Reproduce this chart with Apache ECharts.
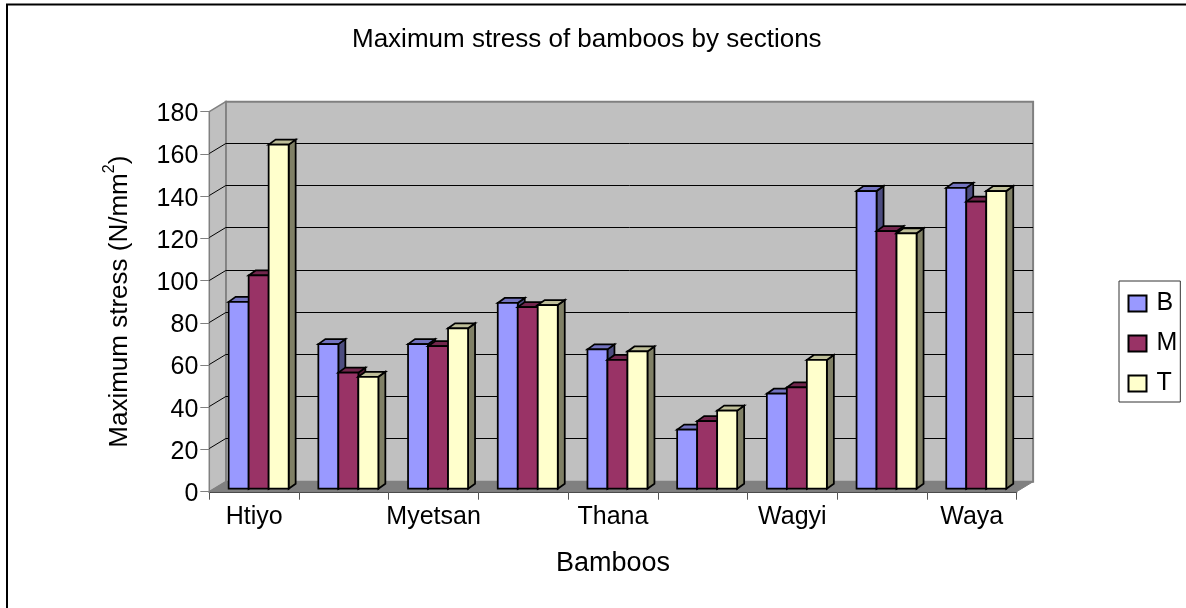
<!DOCTYPE html>
<html>
<head>
<meta charset="utf-8">
<style>html,body{margin:0;padding:0;background:#fff}#chart{width:1186px;height:608px}</style>
<script src="https://cdn.jsdelivr.net/npm/echarts@6/dist/echarts.min.js"></script>
</head>
<body>
<div id="chart"></div>
<script>
// Maximum stress per bamboo species, split by culm section
const categories = ['Htiyo', '', 'Myetsan', '', 'Thana', '', 'Wagyi', '', 'Waya'];
const sectionB = [88.5, 68.5, 68.5, 88, 66, 28, 45, 141, 142.5];
const sectionM = [101, 55, 67.5, 86, 61, 32, 48, 122, 136];
const sectionT = [163, 53, 76, 87, 65, 37, 61, 121, 141];
const yTicks = [20, 40, 60, 80, 100, 120, 140, 160];

// Oblique projection used to fake the box-like depth of the plot
const WALL_DX = 16.5, WALL_DY = -10;
const BAR_SHIFT_X = 4.5, BAR_SHIFT_Y = -3;
const BAR_DEPTH_X = 7, BAR_DEPTH_Y = -5;
const BAR_W = 20;

const FONT = '"Liberation Sans", Arial, sans-serif';

function poly(points, fill, stroke, width) {
  return {
    type: 'polygon',
    shape: { points },
    style: { fill, stroke: stroke || null, lineWidth: width || 0 },
    silent: true
  };
}

// Back wall, side wall, floor and the gridlines running across them
function renderWalls(params, api) {
  const c = params.coordSys;
  const L = c.x, R = c.x + c.width, T = c.y, B = c.y + c.height;
  const dx = WALL_DX, dy = WALL_DY;
  const children = [
    poly([[L + dx, T + dy], [R + dx, T + dy], [R + dx, B + dy], [L + dx, B + dy]], '#c0c0c0', '#808080', 2),
    poly([[L, T], [L + dx, T + dy], [L + dx, B + dy], [L, B]], '#c0c0c0', '#808080', 1.5),
    poly([[L, B], [L + dx, B + dy], [R + dx, B + dy], [R, B]], '#808080', '#808080', 1)
  ];
  yTicks.forEach(v => {
    const y = Math.round(api.coord([0, v])[1]) - 0.5;
    children.push({
      type: 'polyline',
      shape: { points: [[L, y], [L + dx, y + dy], [R + dx, y + dy]] },
      style: { fill: null, stroke: '#000', lineWidth: 1 },
      silent: true
    });
  });
  return { type: 'group', children };
}

// One box per data item: front face plus top and right-hand faces
function barRenderer(slot, front, top, side) {
  return function (params, api) {
    const base = api.coord([api.value(0), 0]);
    const head = api.coord([api.value(0), api.value(1)]);
    const x0 = base[0] + BAR_SHIFT_X - 1.5 * BAR_W + slot * BAR_W;
    const x1 = x0 + BAR_W;
    const y0 = base[1] + BAR_SHIFT_Y;
    const y1 = head[1] + BAR_SHIFT_Y;
    const ddx = BAR_DEPTH_X, ddy = BAR_DEPTH_Y;
    const edge = '#000';
    return {
      type: 'group',
      children: [
        poly([[x1, y1], [x1 + ddx, y1 + ddy], [x1 + ddx, y0 + ddy], [x1, y0]], side, edge, 1.75),
        poly([[x0, y1], [x0 + ddx, y1 + ddy], [x1 + ddx, y1 + ddy], [x1, y1]], top, edge, 1.75),
        poly([[x0, y1], [x1, y1], [x1, y0], [x0, y0]], front, edge, 1.75)
      ]
    };
  };
}

function barSeries(name, values, slot, front, top, side) {
  return {
    name,
    type: 'custom',
    renderItem: barRenderer(slot, front, top, side),
    itemStyle: { color: front, borderColor: '#000', borderWidth: 1.5 },
    encode: { x: 0, y: 1 },
    data: values.map((v, i) => [i, v]),
    z: 3 + slot
  };
}

const chart = echarts.init(document.getElementById('chart'), null, { renderer: 'canvas' });
chart.setOption({
  animation: false,
  backgroundColor: '#fff',
  textStyle: { fontFamily: FONT, color: '#000' },
  title: {
    text: 'Maximum stress of bamboos by sections',
    left: 352,
    top: 27,
    padding: 0,
    textStyle: { fontFamily: FONT, fontSize: 26, fontWeight: 'normal', color: '#000' }
  },
  legend: {
    data: ['B', 'M', 'T'],
    icon: 'rect',
    orient: 'vertical',
    left: 1119,
    top: 281,
    padding: [10, 3, 6, 8.5],
    itemGap: 15,
    itemWidth: 18,
    itemHeight: 16,
    backgroundColor: '#fff',
    borderColor: '#333',
    borderWidth: 1,
    selectedMode: false,
    textStyle: { fontFamily: FONT, fontSize: 25, color: '#000', padding: [0, 0, 0, 5] }
  },
  grid: { left: 209.3, top: 111.7, width: 807.3, height: 380 },
  xAxis: {
    type: 'category',
    data: categories,
    boundaryGap: true,
    name: 'Bamboos',
    nameLocation: 'middle',
    nameGap: 58,
    nameTextStyle: { fontFamily: FONT, fontSize: 27, color: '#000' },
    axisLine: { lineStyle: { color: '#000', width: 1.5 } },
    axisTick: { show: true, interval: 0, length: 8, lineStyle: { color: '#555' } },
    axisLabel: { interval: 0, fontFamily: FONT, fontSize: 25, color: '#000', margin: 13 },
    splitLine: { show: false }
  },
  yAxis: {
    type: 'value',
    min: 0,
    max: 180,
    interval: 20,
    name: '{base|Maximum stress (N/mm}{sup|2}{base|)}',
    nameLocation: 'middle',
    nameRotate: 90,
    nameGap: 70,
    nameTextStyle: {
      rich: {
        base: { fontFamily: FONT, fontSize: 26, lineHeight: 38, color: '#000' },
        sup: { fontFamily: FONT, fontSize: 16, lineHeight: 22, color: '#000', verticalAlign: 'top' }
      }
    },
    axisLine: { show: true, lineStyle: { color: '#555', width: 1.5 } },
    axisTick: { show: true, length: 9, lineStyle: { color: '#808080' } },
    axisLabel: {
      fontFamily: FONT, fontSize: 25, color: '#000', margin: 11,
      verticalAlign: 'top', lineHeight: 25, padding: [-10, 0, 0, 0]
    },
    splitLine: { show: false }
  },
  series: [
    {
      name: 'walls',
      type: 'custom',
      renderItem: renderWalls,
      data: [[0, 0]],
      encode: { x: 0, y: 1 },
      z: 1
    },
    barSeries('B', sectionB, 0, '#9999ff', '#7373bf', '#4d4d80'),
    barSeries('M', sectionM, 1, '#993366', '#73264d', '#4d1933'),
    barSeries('T', sectionT, 2, '#ffffcc', '#bfbf99', '#808066')
  ],
  graphic: [{
    type: 'polyline',
    z: -1,
    shape: { points: [[7, 608], [7, 4.5], [1186, 4.5]] },
    style: { fill: null, stroke: '#000', lineWidth: 2 },
    silent: true
  }]
});
</script>
</body>
</html>
